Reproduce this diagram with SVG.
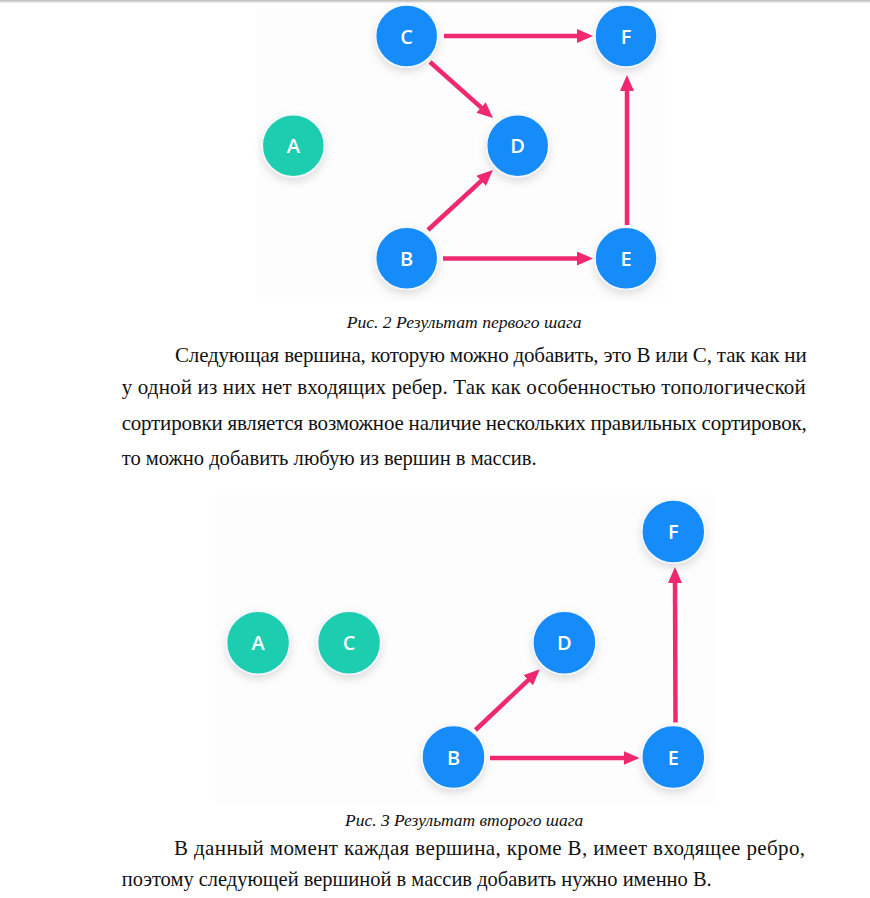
<svg xmlns="http://www.w3.org/2000/svg" width="870" height="898" viewBox="0 0 870 898">
  <style>
    .blue { fill: #168cfa; }
    .teal { fill: #1fcdb0; }
    .node circle { stroke: #f2f7fd; stroke-width: 1.5; filter: url(#shadow); }
    .lbl { font-family: "Open Sans", "Liberation Sans", sans-serif; font-weight: 600; font-size: 20px; fill: #ffffff; text-anchor: middle; dominant-baseline: central; }
    .edge { stroke: #ef2870; stroke-width: 4.5; fill: none; marker-end: url(#arrow); }
    .cap { font-family: "Liberation Serif", "Times New Roman", serif; font-style: italic; font-size: 17.5px; fill: #111; }
    .body { font-family: "Liberation Serif", "Times New Roman", serif; font-size: 21px; fill: #111; }
  </style>
  <defs>
    <linearGradient id="topbar" x1="0" y1="0" x2="0" y2="1">
      <stop offset="0" stop-color="#b9b9b9"/>
      <stop offset="1" stop-color="#ffffff"/>
    </linearGradient>
    <filter id="shadow" x="-40%" y="-40%" width="180%" height="190%">
      <feDropShadow dx="0" dy="4" stdDeviation="4" flood-color="#000" flood-opacity="0.13"/>
    </filter>
    <marker id="arrow" markerUnits="userSpaceOnUse" viewBox="0 0 16 14" markerWidth="16" markerHeight="14" refX="6" refY="7" orient="auto">
      <path d="M0,0 L16,7 L0,14 z" fill="#ef2870"/>
    </marker>
  </defs>

  <rect x="0" y="0" width="870" height="898" fill="#ffffff"/>
  <rect x="0" y="0" width="870" height="3.5" fill="url(#topbar)"/>

  <!-- Figure 2 panel -->
  <rect x="257" y="3.5" width="408" height="298" fill="#fdfdfe"/>
  <!-- Figure 3 panel -->
  <rect x="215" y="495" width="499" height="308" fill="#fdfdfe"/>

  <g id="connectors">
    <line class="edge" x1="444" y1="36" x2="583" y2="36"/>
    <line class="edge" x1="430" y1="62" x2="485.5" y2="111.4"/>
    <line class="edge" x1="428" y1="230" x2="485.6" y2="176.8"/>
    <line class="edge" x1="443" y1="258.5" x2="583" y2="258.5"/>
    <line class="edge" x1="627" y1="225" x2="627" y2="85"/>

    <line class="edge" x1="475.5" y1="730" x2="532.5" y2="676.1"/>
    <line class="edge" x1="490" y1="758" x2="629.5" y2="758"/>
    <line class="edge" x1="675.5" y1="722.6" x2="675" y2="577"/>
  </g>

  <g id="fig2-A" class="node"><circle class="teal" cx="293.3" cy="145.7" r="31"/><text class="lbl" x="293.3" y="145.7">A</text></g>
  <g id="fig2-C" class="node"><circle class="blue" cx="406.7" cy="36" r="31"/><text class="lbl" x="406.7" y="36">C</text></g>
  <g id="fig2-F" class="node"><circle class="blue" cx="626" cy="36" r="31"/><text class="lbl" x="626" y="36">F</text></g>
  <g id="fig2-D" class="node"><circle class="blue" cx="517.7" cy="145.7" r="31"/><text class="lbl" x="517.7" y="145.7">D</text></g>
  <g id="fig2-B" class="node"><circle class="blue" cx="406.7" cy="258.3" r="31"/><text class="lbl" x="406.7" y="258.3">B</text></g>
  <g id="fig2-E" class="node"><circle class="blue" cx="626" cy="258.3" r="31"/><text class="lbl" x="626" y="258.3">E</text></g>

  <g id="fig3-A" class="node"><circle class="teal" cx="258.1" cy="642.8" r="31.5"/><text class="lbl" x="258.1" y="642.8">A</text></g>
  <g id="fig3-C" class="node"><circle class="teal" cx="349.1" cy="642.8" r="31.5"/><text class="lbl" x="349.1" y="642.8">C</text></g>
  <g id="fig3-D" class="node"><circle class="blue" cx="564.4" cy="642.8" r="31.5"/><text class="lbl" x="564.4" y="642.8">D</text></g>
  <g id="fig3-F" class="node"><circle class="blue" cx="673.3" cy="531.6" r="31.5"/><text class="lbl" x="673.3" y="531.6">F</text></g>
  <g id="fig3-B" class="node"><circle class="blue" cx="453.5" cy="757" r="31.5"/><text class="lbl" x="453.5" y="757">B</text></g>
  <g id="fig3-E" class="node"><circle class="blue" cx="673.3" cy="757" r="31.5"/><text class="lbl" x="673.3" y="757">E</text></g>

  <g id="text">
    <text class="cap" x="346.7" y="328" textLength="235" lengthAdjust="spacingAndGlyphs">Рис. 2 Результат первого шага</text>
    <text class="body" x="175" y="361.7" textLength="631.7">Следующая вершина, которую можно добавить, это B или C, так как ни</text>
    <text class="body" x="121.7" y="394" textLength="684">у одной из них нет входящих ребер. Так как особенностью топологической</text>
    <text class="body" x="121.7" y="429.5" textLength="685">сортировки является возможное наличие нескольких правильных сортировок,</text>
    <text class="body" x="121.7" y="465" textLength="415" lengthAdjust="spacingAndGlyphs">то можно добавить любую из вершин в массив.</text>
    <text class="cap" x="345" y="825.7" textLength="238.3" lengthAdjust="spacingAndGlyphs">Рис. 3 Результат второго шага</text>
    <text class="body" x="174" y="855" textLength="631">В данный момент каждая вершина, кроме B, имеет входящее ребро,</text>
    <text class="body" x="121.7" y="886" textLength="590" lengthAdjust="spacingAndGlyphs">поэтому следующей вершиной в массив добавить нужно именно B.</text>
  </g>
</svg>
